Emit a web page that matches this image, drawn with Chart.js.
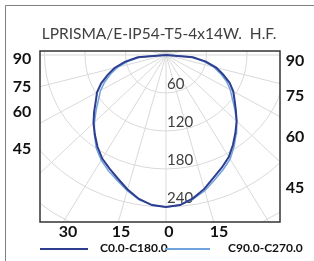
<!DOCTYPE html>
<html>
<head>
<meta charset="utf-8">
<script src="https://cdn.jsdelivr.net/npm/chart.js@4.4.0/dist/chart.umd.min.js"></script>
<style>
  html, body { margin: 0; padding: 0; background: #fff; }
  #wrap { position: relative; width: 314px; height: 261px; }
</style>
</head>
<body>
<div id="wrap"><canvas id="chart" width="314" height="261"></canvas></div>
<script>
// gamma angle from nadir, negative = left half of the diagram
const angles = [-90, -85, -80, -75, -70, -65, -60, -55, -50, -45, -40, -35, -30, -25, -20, -15, -10, -5,
  0, 5, 10, 15, 20, 25, 30, 35, 40, 45, 50, 55, 60, 65, 70, 75, 80, 85, 90]

// intensity in cd
const c0c180 = [0, 42, 62, 79, 92, 106, 118, 127, 139, 152, 164, 177, 189, 198, 208, 220, 231, 238,
  240, 238, 230, 219, 206, 196, 186, 173, 160, 148, 135, 124, 115, 104, 90, 77, 60, 40, 0]
const c90c270 = [0, 38, 57, 74, 87, 100, 112, 122, 135, 150, 165, 180, 192, 202, 211, 222, 232, 238,
  240, 238, 231, 222, 210, 200, 190, 176, 162, 148, 133, 120, 110, 99, 86, 73, 56, 37, 0]

const seriesNames = ['C0.0-C180.0', 'C90.0-C270.0']
const ringValues = [60, 120, 180, 240, 300]
const spokeStep = 15
const leftLabels = ['90', '75', '60', '45']
const rightLabels = ['90', '75', '60', '45']
const bottomLabels = ['30', '15', '0', '15']
const titleText = 'LPRISMA/E-IP54-T5-4x14W.  H.F.'

const DARK = '#2E3D8F'
const LIGHT = '#6FA3DC'

const toPoints = values => angles.map((g, i) => {
  const rad = g * Math.PI / 180
  return { x: values[i] * Math.sin(rad), y: -values[i] * Math.cos(rad) }
})

const polarGrid = {
  id: 'polarGrid',
  beforeDatasetsDraw (chart) {
    const { ctx, chartArea: area, scales: { x, y } } = chart
    const cx = x.getPixelForValue(0)
    const cy = y.getPixelForValue(0)
    ctx.save()
    ctx.beginPath()
    ctx.rect(area.left, area.top, area.right - area.left, area.bottom - area.top)
    ctx.clip()
    ctx.strokeStyle = '#d9d9d9'
    ctx.lineWidth = 1
    for (let a = 0; a < 360; a += spokeStep) {
      const rad = a * Math.PI / 180
      ctx.beginPath()
      ctx.moveTo(cx, cy)
      ctx.lineTo(x.getPixelForValue(500 * Math.sin(rad)), y.getPixelForValue(-500 * Math.cos(rad)))
      ctx.stroke()
    }
    ringValues.forEach(r => {
      const rx = x.getPixelForValue(r) - cx
      const ry = y.getPixelForValue(-r) - cy
      ctx.beginPath()
      ctx.ellipse(cx, cy, rx, ry, 0, 0, Math.PI * 2)
      ctx.stroke()
    })
    // ring value labels along the nadir axis
    ctx.fillStyle = '#404040'
    ctx.font = '15px Lato'
    ctx.textAlign = 'left'
    ctx.textBaseline = 'middle'
    ringValues.forEach(r => {
      const py = y.getPixelForValue(-r) - 9
      if (py < area.bottom) ctx.fillText(String(r), cx + 1, py)
    })
    ctx.restore()
  },
  afterDraw (chart) {
    const { ctx, chartArea: area } = chart
    ctx.save()
    // outer frame (runs off the picture right and bottom)
    ctx.strokeStyle = '#7f7f7f'
    ctx.lineWidth = 1
    ctx.beginPath()
    ctx.moveTo(5.5, 261)
    ctx.lineTo(5.5, 5.5)
    ctx.lineTo(314, 5.5)
    ctx.stroke()
    // plot box
    ctx.strokeStyle = '#333'
    ctx.lineWidth = 1.5
    ctx.strokeRect(area.left, area.top, area.right - area.left, area.bottom - area.top)

    ctx.fillStyle = '#404040'
    ctx.font = '15.5px Lato'
    ctx.textAlign = 'center'
    ctx.textBaseline = 'middle'
    ctx.fillText(titleText, 159, 34)

    ctx.fillStyle = '#111'
    ctx.font = 'bold 16px Lato'
    const leftY = [59, 87, 112, 149]
    const rightY = [61, 96, 137, 188]
    const bottomX = [68, 121, 169, 219]
    leftLabels.forEach((t, i) => ctx.fillText(t, 22, leftY[i]))
    rightLabels.forEach((t, i) => ctx.fillText(t, 295, rightY[i]))
    bottomLabels.forEach((t, i) => ctx.fillText(t, bottomX[i], 232))

    // legend
    const ds = chart.data.datasets
    const lineX = [[40, 88], [165, 210]]
    const textX = [100, 228]
    ctx.font = 'bold 12px Lato'
    ctx.textAlign = 'left'
    ds.forEach((d, i) => {
      ctx.strokeStyle = d.borderColor
      ctx.lineWidth = 2
      ctx.beginPath()
      ctx.moveTo(lineX[i][0], 249)
      ctx.lineTo(lineX[i][1], 249)
      ctx.stroke()
      ctx.fillText(d.label, textX[i], 248)
    })
    ctx.restore()
  }
}

new Chart(document.getElementById('chart'), {
  type: 'scatter',
  data: {
    datasets: [
      { label: seriesNames[0], data: toPoints(c0c180), borderColor: DARK, borderWidth: 2, showLine: true, pointRadius: 0 },
      { label: seriesNames[1], data: toPoints(c90c270), borderColor: LIGHT, borderWidth: 1.5, showLine: true, pointRadius: 0 }
    ]
  },
  options: {
    responsive: false,
    animation: false,
    layout: { padding: { left: 40, right: 34, top: 51, bottom: 39 } },
    scales: {
      x: { display: false, min: -186.7, max: 168.9 },
      y: { display: false, min: -263.8, max: 6.3 }
    },
    plugins: { legend: { display: false }, tooltip: { enabled: false } }
  },
  plugins: [polarGrid]
})
</script>
</body>
</html>
